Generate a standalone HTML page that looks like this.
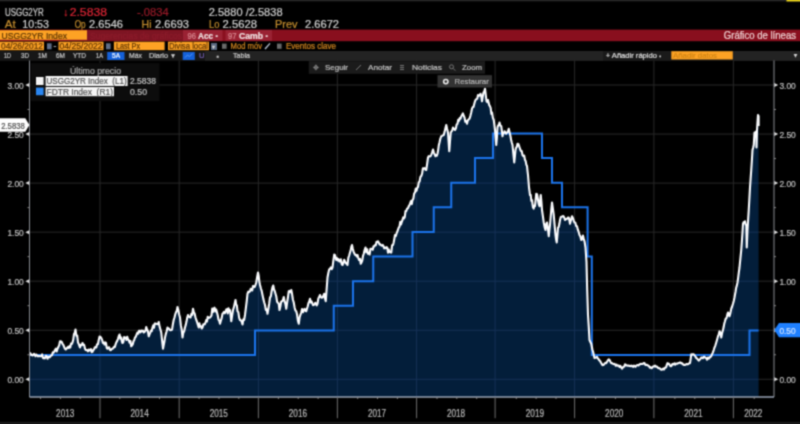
<!DOCTYPE html>
<html lang="es"><head><meta charset="utf-8"><title>USGG2YR Index - Gráfico de líneas</title>
<style>
html,body{margin:0;padding:0;background:#000;overflow:hidden}
body{width:800px;height:424px}
svg{display:block;font-family:'Liberation Sans', sans-serif;}
</style></head><body>
<svg width="800" height="424" viewBox="0 0 800 424">
<defs><filter id="soft" x="0" y="0" width="800" height="424" filterUnits="userSpaceOnUse" color-interpolation-filters="sRGB"><feConvolveMatrix order="3" kernelMatrix="0.0439 0.1217 0.0439 0.1217 0.3377 0.1217 0.0439 0.1217 0.0439" edgeMode="duplicate" preserveAlpha="true"/></filter></defs>
<rect x="0" y="0" width="800" height="424" fill="#000"/>
<g filter="url(#soft)">
<rect x="0" y="0" width="800" height="424" fill="#000"/>
<rect x="0" y="0" width="800" height="1.3" fill="#282828"/>
<rect x="786.5" y="0" width="13.5" height="1.5" fill="#e8d21c"/>
<text x="5" y="15.6" font-size="10.4" fill="#cfcfcf" stroke="#cfcfcf" stroke-width="0.2" textLength="38.8" lengthAdjust="spacingAndGlyphs" xml:space="preserve">USGG2YR</text>
<text x="63.2" y="15.6" font-size="10.4" fill="#d0202c" stroke="#d0202c" stroke-width="0.2" xml:space="preserve">↓</text>
<text x="69.7" y="15.6" font-size="10.4" fill="#e02535" stroke="#e02535" stroke-width="0.2" textLength="37.3" lengthAdjust="spacingAndGlyphs" xml:space="preserve">2.5838</text>
<text x="137" y="15.6" font-size="10.4" fill="#9a1a28" stroke="#9a1a28" stroke-width="0.2" textLength="31.7" lengthAdjust="spacingAndGlyphs" xml:space="preserve">-.0834</text>
<text x="208.7" y="15.6" font-size="10.4" fill="#cfcfcf" stroke="#cfcfcf" stroke-width="0.2" textLength="73.9" lengthAdjust="spacingAndGlyphs" xml:space="preserve">2.5880 /2.5838</text>
<text x="4.8" y="27.7" font-size="10.4" fill="#c8902f" stroke="#c8902f" stroke-width="0.2" textLength="11.0" lengthAdjust="spacingAndGlyphs" xml:space="preserve">At</text>
<text x="22.3" y="27.7" font-size="10.4" fill="#d2d2d2" stroke="#d2d2d2" stroke-width="0.2" textLength="26.7" lengthAdjust="spacingAndGlyphs" xml:space="preserve">10:53</text>
<text x="74.7" y="27.7" font-size="10.4" fill="#c8902f" stroke="#c8902f" stroke-width="0.2" textLength="11.0" lengthAdjust="spacingAndGlyphs" xml:space="preserve">Op</text>
<text x="89" y="27.7" font-size="10.4" fill="#d2d2d2" stroke="#d2d2d2" stroke-width="0.2" textLength="34" lengthAdjust="spacingAndGlyphs" xml:space="preserve">2.6546</text>
<text x="141.5" y="27.7" font-size="10.4" fill="#c8902f" stroke="#c8902f" stroke-width="0.2" textLength="10.0" lengthAdjust="spacingAndGlyphs" xml:space="preserve">Hi</text>
<text x="155" y="27.7" font-size="10.4" fill="#d2d2d2" stroke="#d2d2d2" stroke-width="0.2" textLength="34" lengthAdjust="spacingAndGlyphs" xml:space="preserve">2.6693</text>
<text x="209" y="27.7" font-size="10.4" fill="#c8902f" stroke="#c8902f" stroke-width="0.2" textLength="10.5" lengthAdjust="spacingAndGlyphs" xml:space="preserve">Lo</text>
<text x="222.5" y="27.7" font-size="10.4" fill="#d2d2d2" stroke="#d2d2d2" stroke-width="0.2" textLength="34.5" lengthAdjust="spacingAndGlyphs" xml:space="preserve">2.5628</text>
<text x="275" y="27.7" font-size="10.4" fill="#c8902f" stroke="#c8902f" stroke-width="0.2" textLength="22.5" lengthAdjust="spacingAndGlyphs" xml:space="preserve">Prev</text>
<text x="305" y="27.7" font-size="10.4" fill="#d2d2d2" stroke="#d2d2d2" stroke-width="0.2" textLength="34" lengthAdjust="spacingAndGlyphs" xml:space="preserve">2.6672</text>
<rect x="0" y="29.6" width="800" height="11.6" fill="#890f1e"/>
<rect x="0" y="30.2" width="87" height="9.6" fill="#fda224"/>
<text x="1.5" y="38.5" font-size="9.8" fill="#553003" stroke="#553003" stroke-width="0.2" textLength="65.5" lengthAdjust="spacingAndGlyphs" xml:space="preserve">USGG2YR Index</text>
<rect x="87" y="30.5" width="98" height="10" fill="#7d1523"/>
<text x="90" y="38.6" font-size="9" fill="#8e1c2b" stroke="#8e1c2b" stroke-width="0.2" textLength="92" lengthAdjust="spacingAndGlyphs" xml:space="preserve">Sugerencias de gráficos</text>
<rect x="183" y="30" width="39.5" height="10.8" fill="#9a2233"/>
<text x="187.5" y="38.6" font-size="9" fill="#d98a92" stroke="#d98a92" stroke-width="0.2" textLength="8.5" lengthAdjust="spacingAndGlyphs" xml:space="preserve">96</text>
<text x="198" y="38.6" font-size="9.6" fill="#f2e6e6" stroke="#f2e6e6" stroke-width="0.2" textLength="15" lengthAdjust="spacingAndGlyphs" font-weight="bold" xml:space="preserve">Acc</text>
<text x="215.5" y="38.2" font-size="6" fill="#f2e6e6" stroke="#f2e6e6" stroke-width="0.2" xml:space="preserve">▪</text>
<rect x="225.5" y="30" width="46.5" height="10.8" fill="#9a2233"/>
<text x="228" y="38.6" font-size="9" fill="#d98a92" stroke="#d98a92" stroke-width="0.2" textLength="8.5" lengthAdjust="spacingAndGlyphs" xml:space="preserve">97</text>
<text x="239" y="38.6" font-size="9.6" fill="#f2e6e6" stroke="#f2e6e6" stroke-width="0.2" textLength="24" lengthAdjust="spacingAndGlyphs" font-weight="bold" xml:space="preserve">Camb</text>
<text x="265.5" y="38.2" font-size="6" fill="#f2e6e6" stroke="#f2e6e6" stroke-width="0.2" xml:space="preserve">▪</text>
<text x="723.8" y="38.8" font-size="10.4" fill="#f0d6d6" stroke="#f0d6d6" stroke-width="0.2" textLength="72.2" lengthAdjust="spacingAndGlyphs" xml:space="preserve">Gráfico de líneas</text>
<rect x="0" y="41.7" width="44" height="8.5" fill="#fda224"/>
<text x="1" y="49.2" font-size="8.8" fill="#5a3203" stroke="#5a3203" stroke-width="0.2" textLength="42" lengthAdjust="spacingAndGlyphs" xml:space="preserve">04/26/2012</text>
<rect x="47" y="43.3" width="4.6" height="6" fill="#5f6d86"/>
<text x="53.5" y="49" font-size="8.8" fill="#bbbbbb" stroke="#bbbbbb" stroke-width="0.2" xml:space="preserve">-</text>
<rect x="58.5" y="41.7" width="45" height="8.5" fill="#fda224"/>
<text x="59.5" y="49.2" font-size="8.8" fill="#5a3203" stroke="#5a3203" stroke-width="0.2" textLength="43.0" lengthAdjust="spacingAndGlyphs" xml:space="preserve">04/25/2022</text>
<rect x="106" y="43.3" width="4.6" height="6" fill="#5f6d86"/>
<rect x="113.9" y="41.7" width="50.7" height="8.5" fill="#fda224"/>
<text x="116" y="49.2" font-size="8.8" fill="#5a3203" stroke="#5a3203" stroke-width="0.2" textLength="24" lengthAdjust="spacingAndGlyphs" xml:space="preserve">Last Px</text>
<rect x="168" y="41.7" width="41" height="8.5" fill="#fda224"/>
<text x="169" y="49.2" font-size="8.8" fill="#5a3203" stroke="#5a3203" stroke-width="0.2" textLength="39" lengthAdjust="spacingAndGlyphs" xml:space="preserve">Divisa local</text>
<rect x="211" y="43" width="6" height="7" fill="#5a6880"/>
<text x="212.3" y="48.6" font-size="6" fill="#d0d0d0" stroke="#d0d0d0" stroke-width="0.2" xml:space="preserve">▾</text>
<rect x="222" y="43.6" width="4.6" height="5.2" fill="#6a6a6a"/>
<text x="230.5" y="49.2" font-size="8.8" fill="#d98a20" stroke="#d98a20" stroke-width="0.2" textLength="31.5" lengthAdjust="spacingAndGlyphs" xml:space="preserve">Mod móv</text>
<path d="M265 49 L270 43.4" stroke="#c0c8d8" stroke-width="1.3" fill="none"/>
<rect x="277" y="43.6" width="4.6" height="5.2" fill="#6a6a6a"/>
<text x="286" y="49.2" font-size="8.8" fill="#d98a20" stroke="#d98a20" stroke-width="0.2" textLength="50" lengthAdjust="spacingAndGlyphs" xml:space="preserve">Eventos clave</text>
<rect x="0" y="51" width="800" height="9.8" fill="#171717"/>
<rect x="205" y="51" width="398" height="9.8" fill="#232323"/>
<rect x="733" y="51" width="67" height="9.8" fill="#232323"/>
<rect x="603" y="51" width="68" height="9.8" fill="#1a1a1a"/>
<text x="4" y="58.1" font-size="7.6" fill="#cfcfcf" stroke="#cfcfcf" stroke-width="0.2" textLength="7" lengthAdjust="spacingAndGlyphs" xml:space="preserve">1D</text>
<text x="21" y="58.1" font-size="7.6" fill="#cfcfcf" stroke="#cfcfcf" stroke-width="0.2" textLength="8" lengthAdjust="spacingAndGlyphs" xml:space="preserve">3D</text>
<text x="38" y="58.1" font-size="7.6" fill="#cfcfcf" stroke="#cfcfcf" stroke-width="0.2" textLength="9" lengthAdjust="spacingAndGlyphs" xml:space="preserve">1M</text>
<text x="56" y="58.1" font-size="7.6" fill="#cfcfcf" stroke="#cfcfcf" stroke-width="0.2" textLength="9" lengthAdjust="spacingAndGlyphs" xml:space="preserve">6M</text>
<text x="73" y="58.1" font-size="7.6" fill="#cfcfcf" stroke="#cfcfcf" stroke-width="0.2" textLength="13" lengthAdjust="spacingAndGlyphs" xml:space="preserve">YTD</text>
<text x="96" y="58.1" font-size="7.6" fill="#cfcfcf" stroke="#cfcfcf" stroke-width="0.2" textLength="7" lengthAdjust="spacingAndGlyphs" xml:space="preserve">1A</text>
<rect x="107.2" y="52" width="17.3" height="8" fill="#1560d8"/>
<text x="112" y="58.1" font-size="7.6" fill="#ffffff" stroke="#ffffff" stroke-width="0.2" textLength="8" lengthAdjust="spacingAndGlyphs" xml:space="preserve">5A</text>
<text x="129" y="58.1" font-size="7.6" fill="#cfcfcf" stroke="#cfcfcf" stroke-width="0.2" textLength="13" lengthAdjust="spacingAndGlyphs" xml:space="preserve">Máx</text>
<text x="149" y="58.1" font-size="7.6" fill="#cfcfcf" stroke="#cfcfcf" stroke-width="0.2" textLength="19" lengthAdjust="spacingAndGlyphs" xml:space="preserve">Diario</text>
<text x="170" y="58.4" font-size="6.4" fill="#cfcfcf" stroke="#cfcfcf" stroke-width="0.2" textLength="6" lengthAdjust="spacingAndGlyphs" xml:space="preserve">▼</text>
<rect x="182.7" y="52" width="12.1" height="8" fill="#1560d8"/>
<path d="M185 57.6 L187.5 55 L189.5 56.6 L192.5 53.6" stroke="#4f95f5" stroke-width="1" fill="none"/>
<text x="199" y="58.1" font-size="7.6" fill="#7a62b8" stroke="#7a62b8" stroke-width="0.2" textLength="5.5" lengthAdjust="spacingAndGlyphs" xml:space="preserve">U</text>
<text x="216.6" y="58.6" font-size="7" fill="#c8c8c8" stroke="#c8c8c8" stroke-width="0.2" xml:space="preserve">▪</text>
<text x="233" y="58.1" font-size="7.6" fill="#cfcfcf" stroke="#cfcfcf" stroke-width="0.2" textLength="17" lengthAdjust="spacingAndGlyphs" xml:space="preserve">Tabla</text>
<text x="605.7" y="58.2" font-size="8" fill="#e0e0e0" stroke="#e0e0e0" stroke-width="0.2" textLength="51.3" lengthAdjust="spacingAndGlyphs" xml:space="preserve">+ Añadir rápido</text>
<text x="659.5" y="57.8" font-size="5" fill="#e0e0e0" stroke="#e0e0e0" stroke-width="0.2" xml:space="preserve">▪</text>
<rect x="671.3" y="51.2" width="61.5" height="8.3" fill="#fda224"/>
<text x="673" y="58.1" font-size="8" fill="#cf8414" stroke="#cf8414" stroke-width="0.2" textLength="44" lengthAdjust="spacingAndGlyphs" xml:space="preserve">Añadir datos</text>
<path d="M793.6 54 L797.4 54 L795.5 57.8 Z" fill="#d8d8d8"/>
<line x1="29.5" y1="85.0" x2="774.0" y2="85.0" stroke="#282828" stroke-width="1"/>
<line x1="29.5" y1="134.05" x2="774.0" y2="134.05" stroke="#282828" stroke-width="1"/>
<line x1="29.5" y1="183.1" x2="774.0" y2="183.1" stroke="#282828" stroke-width="1"/>
<line x1="29.5" y1="232.15" x2="774.0" y2="232.15" stroke="#282828" stroke-width="1"/>
<line x1="29.5" y1="281.2" x2="774.0" y2="281.2" stroke="#282828" stroke-width="1"/>
<line x1="29.5" y1="330.25" x2="774.0" y2="330.25" stroke="#282828" stroke-width="1"/>
<line x1="29.5" y1="379.3" x2="774.0" y2="379.3" stroke="#282828" stroke-width="1"/>
<line x1="100" y1="60.5" x2="100" y2="397.0" stroke="#282828" stroke-width="1"/>
<line x1="179.2" y1="60.5" x2="179.2" y2="397.0" stroke="#282828" stroke-width="1"/>
<line x1="258.4" y1="60.5" x2="258.4" y2="397.0" stroke="#282828" stroke-width="1"/>
<line x1="337.4" y1="60.5" x2="337.4" y2="397.0" stroke="#282828" stroke-width="1"/>
<line x1="416.6" y1="60.5" x2="416.6" y2="397.0" stroke="#282828" stroke-width="1"/>
<line x1="495.1" y1="60.5" x2="495.1" y2="397.0" stroke="#282828" stroke-width="1"/>
<line x1="574.6" y1="60.5" x2="574.6" y2="397.0" stroke="#282828" stroke-width="1"/>
<line x1="653.9" y1="60.5" x2="653.9" y2="397.0" stroke="#282828" stroke-width="1"/>
<line x1="733.4" y1="60.5" x2="733.4" y2="397.0" stroke="#282828" stroke-width="1"/>
<polygon points="29.5,397.0 29.5,353 30.25,353.28 31.0,354.94 31.75,354.57 32.5,355.5 33.25,354.87 34.0,353.84 34.75,354.61 35.5,356.2 36.25,354.5 37.08,355.36 37.92,356.48 38.75,355.71 39.58,356.2 40.42,356.21 41.25,356.25 42.14,354.36 43.04,358.12 43.93,358.01 44.82,358.35 45.71,355.75 46.61,356.04 47.5,358.75 48.25,356.9 49.0,356.82 49.75,357.21 50.5,356.09 51.25,355.5 52.0,355.1 52.75,352.43 53.5,352.62 54.25,351.63 55,350 55.83,348.69 56.67,351.49 57.5,348.75 58.33,347.0 59.17,345.37 60,341.25 60.83,341.25 61.67,341.92 62.5,343.75 63.33,344.95 64.17,346.94 65,348.75 65.75,349.45 66.5,348.79 67.25,347.7 68.0,346.86 68.75,348 69.5,346.2 70.25,347.45 71.0,343.61 71.75,343.93 72.5,342.5 73.25,339.83 74.0,333.99 74.75,332.82 75.5,329.5 76.33,335.6 77.17,335.45 78,342.5 78.67,343.73 79.33,345.69 80,347.5 80.83,344.9 81.67,345.17 82.5,343 83.33,344.83 84.17,344.86 85,348.75 85.75,350.02 86.5,349.95 87.25,350.48 88.0,351.29 88.75,349.5 89.5,350.44 90.25,350.56 91.0,349.1 91.75,352.13 92.5,351.75 93.25,350.07 94.0,349.44 94.75,347.49 95.5,347.04 96.25,347.5 97.08,344.28 97.92,344.24 98.75,340 99.58,336.59 100.42,336.7 101.25,338 102.08,339.82 102.92,342.95 103.75,342.5 104.5,344.53 105.25,342.44 106.0,342.85 106.75,347.98 107.5,348.75 108.33,347.76 109.17,347.24 110.0,350.07 110.83,350.24 111.67,348.96 112.5,348.75 113.25,347.83 114.0,346.84 114.75,347.15 115.5,344.59 116.25,342.5 117.08,341.12 117.92,339.07 118.75,336.25 119.58,334.55 120.42,338.81 121.25,337.5 121.88,341.54 122.5,343 123.33,342.05 124.17,337.0 125,338 125.75,337.54 126.5,339.94 127.25,336.75 128.0,339.35 128.75,340 129.56,342.75 130.38,340.98 131.19,346.3 132,345.5 132.75,344.25 133.5,341.3 134.25,339.94 135,337.5 135.83,336.71 136.67,334.33 137.5,332.5 138.25,333.65 139.0,330.81 139.75,330.74 140.5,332.31 141.25,330.5 142.08,331.2 142.92,330.64 143.75,332.5 144.58,331.94 145.42,330.81 146.25,327 147.08,329.48 147.92,331.3 148.75,336.25 149.5,334.32 150.25,332.55 151.0,330.6 151.75,331.15 152.5,327.5 153.25,325.36 154.0,327.7 154.75,323.54 155.5,323.44 156.25,323.75 157.08,324.02 157.92,324.11 158.75,322 159.58,326.66 160.42,329.47 161.25,332.5 162.12,340.7 163,348.75 163.67,345.21 164.33,342.03 165,337.5 165.83,333.93 166.67,331.21 167.5,327.5 168.25,328.77 169.0,328.5 169.75,330.03 170.5,330.26 171.25,330 172.06,329.59 172.88,324.19 173.69,320.05 174.5,317.5 175.25,314.37 176.0,312.23 176.75,310.87 177.5,307 178.33,310.05 179.17,314.52 180,317.5 180.83,325.16 181.67,329.45 182.5,337.5 183.33,332.65 184.17,331.16 185,327.5 185.75,324.91 186.5,321.57 187.25,317.54 188,315 188.83,316.72 189.67,317.05 190.5,317.5 191.33,313.88 192.17,314.95 193,308.75 193.83,312.15 194.67,313.84 195.5,317.5 196.31,319.87 197.12,322.2 197.94,324.92 198.75,327.5 199.38,323.19 200,326.25 200.83,326.01 201.67,328.44 202.5,327.5 203.25,324.42 204.0,324.41 204.75,324.29 205.5,322.66 206.25,320 207.0,321.51 207.75,316.7 208.5,318.02 209.25,317.54 210,317.5 210.75,316.59 211.5,315.47 212.25,308.63 213.0,311.97 213.75,308.75 214.56,307.73 215.38,311.55 216.19,309.55 217,312.5 217.75,315.55 218.5,319.74 219.25,320.74 220,323.75 220.83,320.67 221.67,318.16 222.5,313.75 223.25,313.09 224.0,311.93 224.75,313.27 225.5,311.77 226.25,309.5 227.0,309.2 227.75,313.41 228.5,308.25 229.25,311.13 230,310 230.62,315.48 231.25,321.25 232.12,315.7 233,310 233.83,307.62 234.67,303.63 235.5,300 236.17,304.61 236.83,305.44 237.5,311.25 238.33,312.13 239.17,317.91 240,320 240.83,320.2 241.67,321.61 242.5,324.5 243.33,319.35 244.17,319.88 245,315 245.83,308.32 246.67,301.63 247.5,293.75 248.33,291.65 249.17,292.08 250,291.25 250.75,288.71 251.5,290.28 252.25,290.4 253.0,286.05 253.75,286.25 254.58,287.11 255.42,285.08 256.25,282.5 257.12,277.26 258,272.5 258.67,275.6 259.33,281.59 260,285 260.83,288.2 261.67,290.85 262.5,295 263.33,298.87 264.17,302.22 265,305 265.83,309.94 266.67,309.46 267.5,313.75 268.33,308.95 269.17,303.72 270,297.5 270.81,296.46 271.62,291.26 272.44,287.5 273.25,285.5 274.0,289.56 274.75,291.03 275.5,293.73 276.25,296.25 277.06,301.61 277.88,302.77 278.69,303.46 279.5,310 280.33,306.56 281.17,301.66 282,301.25 282.88,300.23 283.75,297 284.58,301.34 285.42,304.01 286.25,308.75 287.08,302.91 287.92,297.53 288.75,291.25 289.58,290.94 290.42,292.21 291.25,290 292.08,294.08 292.92,299.74 293.75,302.5 294.58,307.43 295.42,310.51 296.25,311.25 297.08,314.51 297.92,320.77 298.75,323.75 299.58,317.47 300.42,314.79 301.25,312.5 302.08,309.02 302.92,312.28 303.75,310 304.58,308.75 305.42,310.82 306.25,311.25 307.0,308.49 307.75,306.21 308.5,302.95 309.25,301.57 310,298.75 310.75,302.42 311.5,301.31 312.25,303.22 313.0,305.1 313.75,305 314.5,304.48 315.25,302.8 316.0,303.5 316.75,305.45 317.5,303.75 318.33,298.61 319.17,297.11 320,295 320.83,297.19 321.67,297.74 322.5,297.5 323.38,295.64 324.25,293.75 325.0,298.59 325.75,301.25 326.62,289.46 327.5,277.5 328.33,272.99 329.17,269.56 330,268.75 330.83,267.47 331.67,269.16 332.5,267.5 333.38,260.69 334.25,254.5 334.92,255.12 335.58,257.13 336.25,260 337.0,258.18 337.75,260.34 338.5,259.16 339.25,261.49 340,261.25 340.83,259.31 341.67,264.19 342.5,265 343.33,262.88 344.17,259.88 345,261.25 345.83,263.48 346.67,263.38 347.5,265 348.33,257.82 349.17,255.49 350,252.5 350.67,250.39 351.33,246.88 352,245 352.83,248.97 353.67,251.84 354.5,253.75 355.25,254.96 356.0,254.82 356.75,256.49 357.5,255 358.31,258.08 359.12,259.98 359.94,258.75 360.75,263.75 361.5,262.46 362.25,260.52 363.0,255.85 363.75,253.75 364.62,249.99 365.5,247.5 366.33,252.2 367.17,249.29 368,253.75 368.81,253.13 369.62,254.52 370.44,248.75 371.25,248.75 372.0,248.93 372.75,249.8 373.5,246.34 374.25,246.51 375,245 375.75,245.28 376.5,241.9 377.25,242.07 378,241.25 378.81,242.71 379.62,244.49 380.44,244.39 381.25,245.5 382.0,245.64 382.75,244.93 383.5,246.22 384.25,248.3 385,247.5 385.75,248.04 386.5,247.15 387.25,247.56 388.0,252.7 388.75,249.5 389.58,252.04 390.42,252.36 391.25,252.5 392.12,245.25 393,245 393.67,242.51 394.33,238.98 395,235 395.83,236.02 396.67,233.08 397.5,231.25 398.12,229.28 398.75,227.5 399.5,226.71 400.25,221.88 401.0,224.39 401.75,221.94 402.5,220 403.25,217.3 404.0,218.29 404.75,217.19 405.5,211.11 406.25,211.25 407.08,208.68 407.92,208.31 408.75,206.25 409.5,205.25 410.25,203.21 411.0,201.18 411.75,204.11 412.5,200 413.33,198.9 414.17,193.39 415,192.5 415.75,188.68 416.5,190.8 417.25,187.84 418.0,186.96 418.75,182.5 419.58,181.43 420.42,176.99 421.25,176 422.08,173.94 422.92,168.25 423.75,168.75 424.58,168.16 425.42,169.5 426.25,170 427.12,164.03 428,157.5 428.83,156.1 429.67,156.5 430.5,156.25 431.33,154.62 432.17,152.26 433,149.5 433.83,152.61 434.67,154.28 435.5,156.25 436.17,154.98 436.83,155.65 437.5,153.75 438.17,150.07 438.83,145.13 439.5,142.5 440.38,138.53 441.25,136.25 442.08,135.83 442.92,135.27 443.75,135 444.58,131.88 445.42,128.33 446.25,125 447.12,128.99 448,132.5 448.62,141.8 449.25,151.25 450.0,141.2 450.75,132.5 451.5,131.4 452.25,130.59 453,127.5 453.67,128.92 454.33,128.91 455,130 455.83,128.52 456.67,124.53 457.5,123.75 458.25,119.69 459.0,120.83 459.75,117.99 460.5,118.75 461.25,116.25 462.06,115.1 462.88,113.33 463.69,115.78 464.5,117.5 465.33,121.71 466.17,121.15 467,123.75 467.83,120.23 468.67,119.39 469.5,118.75 470.33,116.12 471.17,112.75 472,108.75 472.75,107.11 473.5,107.0 474.25,104.08 475,101.25 475.75,99.66 476.5,98.93 477.25,98.8 478,95 478.83,95.89 479.67,95.55 480.5,93.75 481.25,96.04 482,101.25 482.75,96.67 483.5,92.5 484.25,91.61 485,88.75 485.75,94.84 486.5,101.25 487.25,102.07 488,100 488.67,102.89 489.33,105.39 490,106.25 490.67,108.05 491.33,113.85 492,112.5 492.88,117.92 493.75,120 494.38,124.88 495,130 495.62,137.55 496.25,145 496.88,137.65 497.5,127.5 498.17,125.37 498.83,125.35 499.5,122.5 500.38,125.7 501.25,126.25 501.88,131.25 502.5,136.25 503.17,133.01 503.83,133.17 504.5,131.25 505.33,132.15 506.17,133.61 507,132.5 507.88,131.68 508.75,128.75 509.62,132.53 510.5,136.25 511.17,140.32 511.83,142.81 512.5,145 513.38,153.86 514.25,162.5 514.88,156.28 515.5,150 516.17,147.59 516.83,146.76 517.5,143.75 518.33,143.99 519.17,146.23 520,148.75 520.83,150.84 521.67,150.94 522.5,155 523.33,156.08 524.17,155.62 525,160 525.67,161.08 526.33,164.77 527,166 527.5,170.81 528,175 528.5,181.22 529,187.5 529.5,191.12 530,195 530.67,194.75 531.33,200.8 532,200 532.5,204.03 533,207.5 533.67,208.56 534.33,205.48 535,206.25 535.62,199.9 536.25,193.75 537.12,194.42 538,200 538.75,204.18 539.5,206.25 540.12,201.13 540.75,195 541.38,201.48 542,210 542.88,216.22 543.75,222.5 544.62,227.1 545.5,230 546.25,223.87 547,222.5 547.88,228.39 548.75,236.25 549.38,230.05 550,225 550.67,217.16 551.33,209.24 552,202.5 552.88,208.77 553.75,215 554.62,225.13 555.5,235 556.12,239.61 556.75,242.5 557.38,235.38 558,227.5 558.67,227.03 559.33,224.07 560,220 560.83,216.98 561.67,216.82 562.5,216.25 563.33,216.07 564.17,217.3 565,220 565.75,219.27 566.5,218.76 567.25,218.79 568,217.5 568.67,217.44 569.33,220.0 570,223.75 570.67,221.22 571.33,218.48 572,216.25 572.83,217.91 573.67,220.33 574.5,222.5 575.33,222.72 576.17,225.95 577,226.25 577.83,229.64 578.67,231.96 579.5,235 580.38,236.59 581.25,240 582.08,239.35 582.92,235.49 583.75,238.75 584.62,241.8 585.5,247.5 586.0,254.77 586.5,262 587.2,290 588,315 588.75,326.69 589.5,340 590.38,341.97 591.25,343.75 591.88,346.95 592.5,350 593.17,352.01 593.83,355.27 594.5,358.1 595.33,357.53 596.17,357.5 597,356.85 597.83,358.41 598.67,359.33 599.5,360.6 600.25,361.3 601.0,362.78 601.75,363.94 602.5,365.1 603.25,365.07 604.0,364.45 604.75,363.54 605.5,362.82 606.25,363.1 607.08,361.66 607.92,360.23 608.75,359.35 609.58,360.04 610.42,361.79 611.25,363.1 612.0,363.1 612.75,363.65 613.5,364.11 614.25,363.89 615,364.35 615.75,365.76 616.5,364.69 617.25,365.65 618.0,365.41 618.75,365.6 619.56,366.91 620.38,365.91 621.19,367.47 622,368.6 622.75,367.66 623.5,366.78 624.25,366.58 625,364.35 625.75,364.76 626.5,365.49 627.25,365.48 628.0,365.82 628.75,365.6 629.5,366.01 630.25,365.82 631.0,366.3 631.75,365.66 632.5,366.35 633.25,366.79 634.0,365.54 634.75,366.02 635.5,366.81 636.25,365.6 637.0,365.24 637.75,365.11 638.5,365.43 639.25,364.61 640,364.35 640.75,363.7 641.5,363.98 642.25,363.89 643.0,363.71 643.75,363.1 644.5,363.11 645.25,364.78 646.0,365.13 646.75,364.71 647.5,365.1 648.25,365.83 649.0,366.09 649.75,367.61 650.5,367.15 651.25,368.1 652.0,367.94 652.75,366.86 653.5,366.25 654.25,366.46 655,365.6 655.75,366.77 656.5,366.59 657.25,366.76 658.0,368.01 658.75,368.1 659.5,368.33 660.25,368.76 661.0,369.61 661.75,369.67 662.5,369.35 663.25,368.59 664.0,369.49 664.75,367.85 665.5,367.74 666.25,366.85 666.88,364.65 667.5,363.1 668.33,363.91 669.17,363.89 670,365.6 670.75,366.24 671.5,365.78 672.25,364.24 673.0,363.85 673.75,364.35 674.5,363.39 675.25,364.64 676.0,363.67 676.75,363.72 677.5,363.6 678.33,363.11 679.17,362.87 680,362.6 680.75,362.51 681.5,363.51 682.25,363.23 683.0,364.36 683.75,364.85 684.5,364.9 685.25,364.88 686.0,364.43 686.75,364.0 687.5,364.35 688.33,364.01 689.17,363.27 690,363.1 690.62,359.04 691.25,354.35 692.08,354.73 692.92,354.29 693.75,354.35 694.58,355.36 695.42,356.5 696.25,358.1 697.08,358.46 697.92,359.59 698.75,360.6 699.58,359.75 700.42,358.86 701.25,357.6 702.08,357.63 702.92,358.15 703.75,356.85 704.58,356.91 705.42,357.69 706.25,358.1 707.08,359.66 707.92,357.5 708.75,358.6 709.58,357.51 710.42,357.02 711.25,356.1 712.08,354.19 712.92,352.36 713.75,350 714.58,347.31 715.42,345.29 716.25,342.5 717.12,339.42 718,336.25 718.75,334.37 719.5,331.25 720.38,332.86 721.25,337.5 722.12,333.04 723,330 723.67,327.08 724.33,323.34 725,321.25 725.67,318.75 726.33,318.42 727,316.25 727.5,313.86 728,312.5 728.75,314.88 729.5,316.25 730.38,313.1 731.25,308.75 732.12,306.5 733,303.75 733.75,301.03 734.5,297.5 735.0,294.67 735.5,292 736.17,287.71 736.83,285.64 737.5,282.5 738.17,277.65 738.83,272.33 739.5,267.5 740.38,258.72 741.25,250 741.88,241.49 742.5,232.5 743,223.75 743.67,222.21 744.33,222.6 745,221.25 745.62,224.62 746.25,225 746.75,247.5 747.5,230 748.12,219.82 748.75,210 749.38,198.8 750,187.5 750.62,178.7 751.25,170 751.88,160.49 752.5,150 753.12,147.75 753.75,145 754.5,132.5 755.38,132.59 756.25,131.25 756.5,147.5 757,130 757.5,122.28 758,115 758.6,116.25 758.6,126 758.6,397.0" fill="#031e3a"/>
<clipPath id="fc"><polygon points="29.5,397.0 29.5,353 30.25,353.28 31.0,354.94 31.75,354.57 32.5,355.5 33.25,354.87 34.0,353.84 34.75,354.61 35.5,356.2 36.25,354.5 37.08,355.36 37.92,356.48 38.75,355.71 39.58,356.2 40.42,356.21 41.25,356.25 42.14,354.36 43.04,358.12 43.93,358.01 44.82,358.35 45.71,355.75 46.61,356.04 47.5,358.75 48.25,356.9 49.0,356.82 49.75,357.21 50.5,356.09 51.25,355.5 52.0,355.1 52.75,352.43 53.5,352.62 54.25,351.63 55,350 55.83,348.69 56.67,351.49 57.5,348.75 58.33,347.0 59.17,345.37 60,341.25 60.83,341.25 61.67,341.92 62.5,343.75 63.33,344.95 64.17,346.94 65,348.75 65.75,349.45 66.5,348.79 67.25,347.7 68.0,346.86 68.75,348 69.5,346.2 70.25,347.45 71.0,343.61 71.75,343.93 72.5,342.5 73.25,339.83 74.0,333.99 74.75,332.82 75.5,329.5 76.33,335.6 77.17,335.45 78,342.5 78.67,343.73 79.33,345.69 80,347.5 80.83,344.9 81.67,345.17 82.5,343 83.33,344.83 84.17,344.86 85,348.75 85.75,350.02 86.5,349.95 87.25,350.48 88.0,351.29 88.75,349.5 89.5,350.44 90.25,350.56 91.0,349.1 91.75,352.13 92.5,351.75 93.25,350.07 94.0,349.44 94.75,347.49 95.5,347.04 96.25,347.5 97.08,344.28 97.92,344.24 98.75,340 99.58,336.59 100.42,336.7 101.25,338 102.08,339.82 102.92,342.95 103.75,342.5 104.5,344.53 105.25,342.44 106.0,342.85 106.75,347.98 107.5,348.75 108.33,347.76 109.17,347.24 110.0,350.07 110.83,350.24 111.67,348.96 112.5,348.75 113.25,347.83 114.0,346.84 114.75,347.15 115.5,344.59 116.25,342.5 117.08,341.12 117.92,339.07 118.75,336.25 119.58,334.55 120.42,338.81 121.25,337.5 121.88,341.54 122.5,343 123.33,342.05 124.17,337.0 125,338 125.75,337.54 126.5,339.94 127.25,336.75 128.0,339.35 128.75,340 129.56,342.75 130.38,340.98 131.19,346.3 132,345.5 132.75,344.25 133.5,341.3 134.25,339.94 135,337.5 135.83,336.71 136.67,334.33 137.5,332.5 138.25,333.65 139.0,330.81 139.75,330.74 140.5,332.31 141.25,330.5 142.08,331.2 142.92,330.64 143.75,332.5 144.58,331.94 145.42,330.81 146.25,327 147.08,329.48 147.92,331.3 148.75,336.25 149.5,334.32 150.25,332.55 151.0,330.6 151.75,331.15 152.5,327.5 153.25,325.36 154.0,327.7 154.75,323.54 155.5,323.44 156.25,323.75 157.08,324.02 157.92,324.11 158.75,322 159.58,326.66 160.42,329.47 161.25,332.5 162.12,340.7 163,348.75 163.67,345.21 164.33,342.03 165,337.5 165.83,333.93 166.67,331.21 167.5,327.5 168.25,328.77 169.0,328.5 169.75,330.03 170.5,330.26 171.25,330 172.06,329.59 172.88,324.19 173.69,320.05 174.5,317.5 175.25,314.37 176.0,312.23 176.75,310.87 177.5,307 178.33,310.05 179.17,314.52 180,317.5 180.83,325.16 181.67,329.45 182.5,337.5 183.33,332.65 184.17,331.16 185,327.5 185.75,324.91 186.5,321.57 187.25,317.54 188,315 188.83,316.72 189.67,317.05 190.5,317.5 191.33,313.88 192.17,314.95 193,308.75 193.83,312.15 194.67,313.84 195.5,317.5 196.31,319.87 197.12,322.2 197.94,324.92 198.75,327.5 199.38,323.19 200,326.25 200.83,326.01 201.67,328.44 202.5,327.5 203.25,324.42 204.0,324.41 204.75,324.29 205.5,322.66 206.25,320 207.0,321.51 207.75,316.7 208.5,318.02 209.25,317.54 210,317.5 210.75,316.59 211.5,315.47 212.25,308.63 213.0,311.97 213.75,308.75 214.56,307.73 215.38,311.55 216.19,309.55 217,312.5 217.75,315.55 218.5,319.74 219.25,320.74 220,323.75 220.83,320.67 221.67,318.16 222.5,313.75 223.25,313.09 224.0,311.93 224.75,313.27 225.5,311.77 226.25,309.5 227.0,309.2 227.75,313.41 228.5,308.25 229.25,311.13 230,310 230.62,315.48 231.25,321.25 232.12,315.7 233,310 233.83,307.62 234.67,303.63 235.5,300 236.17,304.61 236.83,305.44 237.5,311.25 238.33,312.13 239.17,317.91 240,320 240.83,320.2 241.67,321.61 242.5,324.5 243.33,319.35 244.17,319.88 245,315 245.83,308.32 246.67,301.63 247.5,293.75 248.33,291.65 249.17,292.08 250,291.25 250.75,288.71 251.5,290.28 252.25,290.4 253.0,286.05 253.75,286.25 254.58,287.11 255.42,285.08 256.25,282.5 257.12,277.26 258,272.5 258.67,275.6 259.33,281.59 260,285 260.83,288.2 261.67,290.85 262.5,295 263.33,298.87 264.17,302.22 265,305 265.83,309.94 266.67,309.46 267.5,313.75 268.33,308.95 269.17,303.72 270,297.5 270.81,296.46 271.62,291.26 272.44,287.5 273.25,285.5 274.0,289.56 274.75,291.03 275.5,293.73 276.25,296.25 277.06,301.61 277.88,302.77 278.69,303.46 279.5,310 280.33,306.56 281.17,301.66 282,301.25 282.88,300.23 283.75,297 284.58,301.34 285.42,304.01 286.25,308.75 287.08,302.91 287.92,297.53 288.75,291.25 289.58,290.94 290.42,292.21 291.25,290 292.08,294.08 292.92,299.74 293.75,302.5 294.58,307.43 295.42,310.51 296.25,311.25 297.08,314.51 297.92,320.77 298.75,323.75 299.58,317.47 300.42,314.79 301.25,312.5 302.08,309.02 302.92,312.28 303.75,310 304.58,308.75 305.42,310.82 306.25,311.25 307.0,308.49 307.75,306.21 308.5,302.95 309.25,301.57 310,298.75 310.75,302.42 311.5,301.31 312.25,303.22 313.0,305.1 313.75,305 314.5,304.48 315.25,302.8 316.0,303.5 316.75,305.45 317.5,303.75 318.33,298.61 319.17,297.11 320,295 320.83,297.19 321.67,297.74 322.5,297.5 323.38,295.64 324.25,293.75 325.0,298.59 325.75,301.25 326.62,289.46 327.5,277.5 328.33,272.99 329.17,269.56 330,268.75 330.83,267.47 331.67,269.16 332.5,267.5 333.38,260.69 334.25,254.5 334.92,255.12 335.58,257.13 336.25,260 337.0,258.18 337.75,260.34 338.5,259.16 339.25,261.49 340,261.25 340.83,259.31 341.67,264.19 342.5,265 343.33,262.88 344.17,259.88 345,261.25 345.83,263.48 346.67,263.38 347.5,265 348.33,257.82 349.17,255.49 350,252.5 350.67,250.39 351.33,246.88 352,245 352.83,248.97 353.67,251.84 354.5,253.75 355.25,254.96 356.0,254.82 356.75,256.49 357.5,255 358.31,258.08 359.12,259.98 359.94,258.75 360.75,263.75 361.5,262.46 362.25,260.52 363.0,255.85 363.75,253.75 364.62,249.99 365.5,247.5 366.33,252.2 367.17,249.29 368,253.75 368.81,253.13 369.62,254.52 370.44,248.75 371.25,248.75 372.0,248.93 372.75,249.8 373.5,246.34 374.25,246.51 375,245 375.75,245.28 376.5,241.9 377.25,242.07 378,241.25 378.81,242.71 379.62,244.49 380.44,244.39 381.25,245.5 382.0,245.64 382.75,244.93 383.5,246.22 384.25,248.3 385,247.5 385.75,248.04 386.5,247.15 387.25,247.56 388.0,252.7 388.75,249.5 389.58,252.04 390.42,252.36 391.25,252.5 392.12,245.25 393,245 393.67,242.51 394.33,238.98 395,235 395.83,236.02 396.67,233.08 397.5,231.25 398.12,229.28 398.75,227.5 399.5,226.71 400.25,221.88 401.0,224.39 401.75,221.94 402.5,220 403.25,217.3 404.0,218.29 404.75,217.19 405.5,211.11 406.25,211.25 407.08,208.68 407.92,208.31 408.75,206.25 409.5,205.25 410.25,203.21 411.0,201.18 411.75,204.11 412.5,200 413.33,198.9 414.17,193.39 415,192.5 415.75,188.68 416.5,190.8 417.25,187.84 418.0,186.96 418.75,182.5 419.58,181.43 420.42,176.99 421.25,176 422.08,173.94 422.92,168.25 423.75,168.75 424.58,168.16 425.42,169.5 426.25,170 427.12,164.03 428,157.5 428.83,156.1 429.67,156.5 430.5,156.25 431.33,154.62 432.17,152.26 433,149.5 433.83,152.61 434.67,154.28 435.5,156.25 436.17,154.98 436.83,155.65 437.5,153.75 438.17,150.07 438.83,145.13 439.5,142.5 440.38,138.53 441.25,136.25 442.08,135.83 442.92,135.27 443.75,135 444.58,131.88 445.42,128.33 446.25,125 447.12,128.99 448,132.5 448.62,141.8 449.25,151.25 450.0,141.2 450.75,132.5 451.5,131.4 452.25,130.59 453,127.5 453.67,128.92 454.33,128.91 455,130 455.83,128.52 456.67,124.53 457.5,123.75 458.25,119.69 459.0,120.83 459.75,117.99 460.5,118.75 461.25,116.25 462.06,115.1 462.88,113.33 463.69,115.78 464.5,117.5 465.33,121.71 466.17,121.15 467,123.75 467.83,120.23 468.67,119.39 469.5,118.75 470.33,116.12 471.17,112.75 472,108.75 472.75,107.11 473.5,107.0 474.25,104.08 475,101.25 475.75,99.66 476.5,98.93 477.25,98.8 478,95 478.83,95.89 479.67,95.55 480.5,93.75 481.25,96.04 482,101.25 482.75,96.67 483.5,92.5 484.25,91.61 485,88.75 485.75,94.84 486.5,101.25 487.25,102.07 488,100 488.67,102.89 489.33,105.39 490,106.25 490.67,108.05 491.33,113.85 492,112.5 492.88,117.92 493.75,120 494.38,124.88 495,130 495.62,137.55 496.25,145 496.88,137.65 497.5,127.5 498.17,125.37 498.83,125.35 499.5,122.5 500.38,125.7 501.25,126.25 501.88,131.25 502.5,136.25 503.17,133.01 503.83,133.17 504.5,131.25 505.33,132.15 506.17,133.61 507,132.5 507.88,131.68 508.75,128.75 509.62,132.53 510.5,136.25 511.17,140.32 511.83,142.81 512.5,145 513.38,153.86 514.25,162.5 514.88,156.28 515.5,150 516.17,147.59 516.83,146.76 517.5,143.75 518.33,143.99 519.17,146.23 520,148.75 520.83,150.84 521.67,150.94 522.5,155 523.33,156.08 524.17,155.62 525,160 525.67,161.08 526.33,164.77 527,166 527.5,170.81 528,175 528.5,181.22 529,187.5 529.5,191.12 530,195 530.67,194.75 531.33,200.8 532,200 532.5,204.03 533,207.5 533.67,208.56 534.33,205.48 535,206.25 535.62,199.9 536.25,193.75 537.12,194.42 538,200 538.75,204.18 539.5,206.25 540.12,201.13 540.75,195 541.38,201.48 542,210 542.88,216.22 543.75,222.5 544.62,227.1 545.5,230 546.25,223.87 547,222.5 547.88,228.39 548.75,236.25 549.38,230.05 550,225 550.67,217.16 551.33,209.24 552,202.5 552.88,208.77 553.75,215 554.62,225.13 555.5,235 556.12,239.61 556.75,242.5 557.38,235.38 558,227.5 558.67,227.03 559.33,224.07 560,220 560.83,216.98 561.67,216.82 562.5,216.25 563.33,216.07 564.17,217.3 565,220 565.75,219.27 566.5,218.76 567.25,218.79 568,217.5 568.67,217.44 569.33,220.0 570,223.75 570.67,221.22 571.33,218.48 572,216.25 572.83,217.91 573.67,220.33 574.5,222.5 575.33,222.72 576.17,225.95 577,226.25 577.83,229.64 578.67,231.96 579.5,235 580.38,236.59 581.25,240 582.08,239.35 582.92,235.49 583.75,238.75 584.62,241.8 585.5,247.5 586.0,254.77 586.5,262 587.2,290 588,315 588.75,326.69 589.5,340 590.38,341.97 591.25,343.75 591.88,346.95 592.5,350 593.17,352.01 593.83,355.27 594.5,358.1 595.33,357.53 596.17,357.5 597,356.85 597.83,358.41 598.67,359.33 599.5,360.6 600.25,361.3 601.0,362.78 601.75,363.94 602.5,365.1 603.25,365.07 604.0,364.45 604.75,363.54 605.5,362.82 606.25,363.1 607.08,361.66 607.92,360.23 608.75,359.35 609.58,360.04 610.42,361.79 611.25,363.1 612.0,363.1 612.75,363.65 613.5,364.11 614.25,363.89 615,364.35 615.75,365.76 616.5,364.69 617.25,365.65 618.0,365.41 618.75,365.6 619.56,366.91 620.38,365.91 621.19,367.47 622,368.6 622.75,367.66 623.5,366.78 624.25,366.58 625,364.35 625.75,364.76 626.5,365.49 627.25,365.48 628.0,365.82 628.75,365.6 629.5,366.01 630.25,365.82 631.0,366.3 631.75,365.66 632.5,366.35 633.25,366.79 634.0,365.54 634.75,366.02 635.5,366.81 636.25,365.6 637.0,365.24 637.75,365.11 638.5,365.43 639.25,364.61 640,364.35 640.75,363.7 641.5,363.98 642.25,363.89 643.0,363.71 643.75,363.1 644.5,363.11 645.25,364.78 646.0,365.13 646.75,364.71 647.5,365.1 648.25,365.83 649.0,366.09 649.75,367.61 650.5,367.15 651.25,368.1 652.0,367.94 652.75,366.86 653.5,366.25 654.25,366.46 655,365.6 655.75,366.77 656.5,366.59 657.25,366.76 658.0,368.01 658.75,368.1 659.5,368.33 660.25,368.76 661.0,369.61 661.75,369.67 662.5,369.35 663.25,368.59 664.0,369.49 664.75,367.85 665.5,367.74 666.25,366.85 666.88,364.65 667.5,363.1 668.33,363.91 669.17,363.89 670,365.6 670.75,366.24 671.5,365.78 672.25,364.24 673.0,363.85 673.75,364.35 674.5,363.39 675.25,364.64 676.0,363.67 676.75,363.72 677.5,363.6 678.33,363.11 679.17,362.87 680,362.6 680.75,362.51 681.5,363.51 682.25,363.23 683.0,364.36 683.75,364.85 684.5,364.9 685.25,364.88 686.0,364.43 686.75,364.0 687.5,364.35 688.33,364.01 689.17,363.27 690,363.1 690.62,359.04 691.25,354.35 692.08,354.73 692.92,354.29 693.75,354.35 694.58,355.36 695.42,356.5 696.25,358.1 697.08,358.46 697.92,359.59 698.75,360.6 699.58,359.75 700.42,358.86 701.25,357.6 702.08,357.63 702.92,358.15 703.75,356.85 704.58,356.91 705.42,357.69 706.25,358.1 707.08,359.66 707.92,357.5 708.75,358.6 709.58,357.51 710.42,357.02 711.25,356.1 712.08,354.19 712.92,352.36 713.75,350 714.58,347.31 715.42,345.29 716.25,342.5 717.12,339.42 718,336.25 718.75,334.37 719.5,331.25 720.38,332.86 721.25,337.5 722.12,333.04 723,330 723.67,327.08 724.33,323.34 725,321.25 725.67,318.75 726.33,318.42 727,316.25 727.5,313.86 728,312.5 728.75,314.88 729.5,316.25 730.38,313.1 731.25,308.75 732.12,306.5 733,303.75 733.75,301.03 734.5,297.5 735.0,294.67 735.5,292 736.17,287.71 736.83,285.64 737.5,282.5 738.17,277.65 738.83,272.33 739.5,267.5 740.38,258.72 741.25,250 741.88,241.49 742.5,232.5 743,223.75 743.67,222.21 744.33,222.6 745,221.25 745.62,224.62 746.25,225 746.75,247.5 747.5,230 748.12,219.82 748.75,210 749.38,198.8 750,187.5 750.62,178.7 751.25,170 751.88,160.49 752.5,150 753.12,147.75 753.75,145 754.5,132.5 755.38,132.59 756.25,131.25 756.5,147.5 757,130 757.5,122.28 758,115 758.6,116.25 758.6,126 758.6,397.0"/></clipPath>
<g opacity="0.7" clip-path="url(#fc)">
<line x1="29.5" y1="85.0" x2="758.6" y2="85.0" stroke="#1f3a63" stroke-width="1"/>
<line x1="29.5" y1="134.05" x2="758.6" y2="134.05" stroke="#1f3a63" stroke-width="1"/>
<line x1="29.5" y1="183.1" x2="758.6" y2="183.1" stroke="#1f3a63" stroke-width="1"/>
<line x1="29.5" y1="232.15" x2="758.6" y2="232.15" stroke="#1f3a63" stroke-width="1"/>
<line x1="29.5" y1="281.2" x2="758.6" y2="281.2" stroke="#1f3a63" stroke-width="1"/>
<line x1="29.5" y1="330.25" x2="758.6" y2="330.25" stroke="#1f3a63" stroke-width="1"/>
<line x1="29.5" y1="379.3" x2="758.6" y2="379.3" stroke="#1f3a63" stroke-width="1"/>
<line x1="100" y1="60.5" x2="100" y2="397.0" stroke="#1f3a63" stroke-width="1"/>
<line x1="179.2" y1="60.5" x2="179.2" y2="397.0" stroke="#1f3a63" stroke-width="1"/>
<line x1="258.4" y1="60.5" x2="258.4" y2="397.0" stroke="#1f3a63" stroke-width="1"/>
<line x1="337.4" y1="60.5" x2="337.4" y2="397.0" stroke="#1f3a63" stroke-width="1"/>
<line x1="416.6" y1="60.5" x2="416.6" y2="397.0" stroke="#1f3a63" stroke-width="1"/>
<line x1="495.1" y1="60.5" x2="495.1" y2="397.0" stroke="#1f3a63" stroke-width="1"/>
<line x1="574.6" y1="60.5" x2="574.6" y2="397.0" stroke="#1f3a63" stroke-width="1"/>
<line x1="653.9" y1="60.5" x2="653.9" y2="397.0" stroke="#1f3a63" stroke-width="1"/>
<line x1="733.4" y1="60.5" x2="733.4" y2="397.0" stroke="#1f3a63" stroke-width="1"/>
</g>
<polyline points="29.5,354.99 255,354.99 255,330.38 333.75,330.38 333.75,305.77 353,305.77 353,281.16 373.25,281.16 373.25,256.55 412.5,256.55 412.5,231.94 433.75,231.94 433.75,207.33 451.25,207.33 451.25,182.72 475,182.72 475,158.11 493,158.11 493,133.5 542,133.5 542,158.11 552,158.11 552,182.72 562,182.72 562,207.33 587.6,207.33 587.6,256.55 591.8,256.55 591.8,354.99 749.5,354.99 749.5,330.38 758.6,330.38" fill="none" stroke="#1b74ec" stroke-width="2.0" stroke-linejoin="miter"/>
<polyline points="29.5,353 30.25,353.28 31.0,354.94 31.75,354.57 32.5,355.5 33.25,354.87 34.0,353.84 34.75,354.61 35.5,356.2 36.25,354.5 37.08,355.36 37.92,356.48 38.75,355.71 39.58,356.2 40.42,356.21 41.25,356.25 42.14,354.36 43.04,358.12 43.93,358.01 44.82,358.35 45.71,355.75 46.61,356.04 47.5,358.75 48.25,356.9 49.0,356.82 49.75,357.21 50.5,356.09 51.25,355.5 52.0,355.1 52.75,352.43 53.5,352.62 54.25,351.63 55,350 55.83,348.69 56.67,351.49 57.5,348.75 58.33,347.0 59.17,345.37 60,341.25 60.83,341.25 61.67,341.92 62.5,343.75 63.33,344.95 64.17,346.94 65,348.75 65.75,349.45 66.5,348.79 67.25,347.7 68.0,346.86 68.75,348 69.5,346.2 70.25,347.45 71.0,343.61 71.75,343.93 72.5,342.5 73.25,339.83 74.0,333.99 74.75,332.82 75.5,329.5 76.33,335.6 77.17,335.45 78,342.5 78.67,343.73 79.33,345.69 80,347.5 80.83,344.9 81.67,345.17 82.5,343 83.33,344.83 84.17,344.86 85,348.75 85.75,350.02 86.5,349.95 87.25,350.48 88.0,351.29 88.75,349.5 89.5,350.44 90.25,350.56 91.0,349.1 91.75,352.13 92.5,351.75 93.25,350.07 94.0,349.44 94.75,347.49 95.5,347.04 96.25,347.5 97.08,344.28 97.92,344.24 98.75,340 99.58,336.59 100.42,336.7 101.25,338 102.08,339.82 102.92,342.95 103.75,342.5 104.5,344.53 105.25,342.44 106.0,342.85 106.75,347.98 107.5,348.75 108.33,347.76 109.17,347.24 110.0,350.07 110.83,350.24 111.67,348.96 112.5,348.75 113.25,347.83 114.0,346.84 114.75,347.15 115.5,344.59 116.25,342.5 117.08,341.12 117.92,339.07 118.75,336.25 119.58,334.55 120.42,338.81 121.25,337.5 121.88,341.54 122.5,343 123.33,342.05 124.17,337.0 125,338 125.75,337.54 126.5,339.94 127.25,336.75 128.0,339.35 128.75,340 129.56,342.75 130.38,340.98 131.19,346.3 132,345.5 132.75,344.25 133.5,341.3 134.25,339.94 135,337.5 135.83,336.71 136.67,334.33 137.5,332.5 138.25,333.65 139.0,330.81 139.75,330.74 140.5,332.31 141.25,330.5 142.08,331.2 142.92,330.64 143.75,332.5 144.58,331.94 145.42,330.81 146.25,327 147.08,329.48 147.92,331.3 148.75,336.25 149.5,334.32 150.25,332.55 151.0,330.6 151.75,331.15 152.5,327.5 153.25,325.36 154.0,327.7 154.75,323.54 155.5,323.44 156.25,323.75 157.08,324.02 157.92,324.11 158.75,322 159.58,326.66 160.42,329.47 161.25,332.5 162.12,340.7 163,348.75 163.67,345.21 164.33,342.03 165,337.5 165.83,333.93 166.67,331.21 167.5,327.5 168.25,328.77 169.0,328.5 169.75,330.03 170.5,330.26 171.25,330 172.06,329.59 172.88,324.19 173.69,320.05 174.5,317.5 175.25,314.37 176.0,312.23 176.75,310.87 177.5,307 178.33,310.05 179.17,314.52 180,317.5 180.83,325.16 181.67,329.45 182.5,337.5 183.33,332.65 184.17,331.16 185,327.5 185.75,324.91 186.5,321.57 187.25,317.54 188,315 188.83,316.72 189.67,317.05 190.5,317.5 191.33,313.88 192.17,314.95 193,308.75 193.83,312.15 194.67,313.84 195.5,317.5 196.31,319.87 197.12,322.2 197.94,324.92 198.75,327.5 199.38,323.19 200,326.25 200.83,326.01 201.67,328.44 202.5,327.5 203.25,324.42 204.0,324.41 204.75,324.29 205.5,322.66 206.25,320 207.0,321.51 207.75,316.7 208.5,318.02 209.25,317.54 210,317.5 210.75,316.59 211.5,315.47 212.25,308.63 213.0,311.97 213.75,308.75 214.56,307.73 215.38,311.55 216.19,309.55 217,312.5 217.75,315.55 218.5,319.74 219.25,320.74 220,323.75 220.83,320.67 221.67,318.16 222.5,313.75 223.25,313.09 224.0,311.93 224.75,313.27 225.5,311.77 226.25,309.5 227.0,309.2 227.75,313.41 228.5,308.25 229.25,311.13 230,310 230.62,315.48 231.25,321.25 232.12,315.7 233,310 233.83,307.62 234.67,303.63 235.5,300 236.17,304.61 236.83,305.44 237.5,311.25 238.33,312.13 239.17,317.91 240,320 240.83,320.2 241.67,321.61 242.5,324.5 243.33,319.35 244.17,319.88 245,315 245.83,308.32 246.67,301.63 247.5,293.75 248.33,291.65 249.17,292.08 250,291.25 250.75,288.71 251.5,290.28 252.25,290.4 253.0,286.05 253.75,286.25 254.58,287.11 255.42,285.08 256.25,282.5 257.12,277.26 258,272.5 258.67,275.6 259.33,281.59 260,285 260.83,288.2 261.67,290.85 262.5,295 263.33,298.87 264.17,302.22 265,305 265.83,309.94 266.67,309.46 267.5,313.75 268.33,308.95 269.17,303.72 270,297.5 270.81,296.46 271.62,291.26 272.44,287.5 273.25,285.5 274.0,289.56 274.75,291.03 275.5,293.73 276.25,296.25 277.06,301.61 277.88,302.77 278.69,303.46 279.5,310 280.33,306.56 281.17,301.66 282,301.25 282.88,300.23 283.75,297 284.58,301.34 285.42,304.01 286.25,308.75 287.08,302.91 287.92,297.53 288.75,291.25 289.58,290.94 290.42,292.21 291.25,290 292.08,294.08 292.92,299.74 293.75,302.5 294.58,307.43 295.42,310.51 296.25,311.25 297.08,314.51 297.92,320.77 298.75,323.75 299.58,317.47 300.42,314.79 301.25,312.5 302.08,309.02 302.92,312.28 303.75,310 304.58,308.75 305.42,310.82 306.25,311.25 307.0,308.49 307.75,306.21 308.5,302.95 309.25,301.57 310,298.75 310.75,302.42 311.5,301.31 312.25,303.22 313.0,305.1 313.75,305 314.5,304.48 315.25,302.8 316.0,303.5 316.75,305.45 317.5,303.75 318.33,298.61 319.17,297.11 320,295 320.83,297.19 321.67,297.74 322.5,297.5 323.38,295.64 324.25,293.75 325.0,298.59 325.75,301.25 326.62,289.46 327.5,277.5 328.33,272.99 329.17,269.56 330,268.75 330.83,267.47 331.67,269.16 332.5,267.5 333.38,260.69 334.25,254.5 334.92,255.12 335.58,257.13 336.25,260 337.0,258.18 337.75,260.34 338.5,259.16 339.25,261.49 340,261.25 340.83,259.31 341.67,264.19 342.5,265 343.33,262.88 344.17,259.88 345,261.25 345.83,263.48 346.67,263.38 347.5,265 348.33,257.82 349.17,255.49 350,252.5 350.67,250.39 351.33,246.88 352,245 352.83,248.97 353.67,251.84 354.5,253.75 355.25,254.96 356.0,254.82 356.75,256.49 357.5,255 358.31,258.08 359.12,259.98 359.94,258.75 360.75,263.75 361.5,262.46 362.25,260.52 363.0,255.85 363.75,253.75 364.62,249.99 365.5,247.5 366.33,252.2 367.17,249.29 368,253.75 368.81,253.13 369.62,254.52 370.44,248.75 371.25,248.75 372.0,248.93 372.75,249.8 373.5,246.34 374.25,246.51 375,245 375.75,245.28 376.5,241.9 377.25,242.07 378,241.25 378.81,242.71 379.62,244.49 380.44,244.39 381.25,245.5 382.0,245.64 382.75,244.93 383.5,246.22 384.25,248.3 385,247.5 385.75,248.04 386.5,247.15 387.25,247.56 388.0,252.7 388.75,249.5 389.58,252.04 390.42,252.36 391.25,252.5 392.12,245.25 393,245 393.67,242.51 394.33,238.98 395,235 395.83,236.02 396.67,233.08 397.5,231.25 398.12,229.28 398.75,227.5 399.5,226.71 400.25,221.88 401.0,224.39 401.75,221.94 402.5,220 403.25,217.3 404.0,218.29 404.75,217.19 405.5,211.11 406.25,211.25 407.08,208.68 407.92,208.31 408.75,206.25 409.5,205.25 410.25,203.21 411.0,201.18 411.75,204.11 412.5,200 413.33,198.9 414.17,193.39 415,192.5 415.75,188.68 416.5,190.8 417.25,187.84 418.0,186.96 418.75,182.5 419.58,181.43 420.42,176.99 421.25,176 422.08,173.94 422.92,168.25 423.75,168.75 424.58,168.16 425.42,169.5 426.25,170 427.12,164.03 428,157.5 428.83,156.1 429.67,156.5 430.5,156.25 431.33,154.62 432.17,152.26 433,149.5 433.83,152.61 434.67,154.28 435.5,156.25 436.17,154.98 436.83,155.65 437.5,153.75 438.17,150.07 438.83,145.13 439.5,142.5 440.38,138.53 441.25,136.25 442.08,135.83 442.92,135.27 443.75,135 444.58,131.88 445.42,128.33 446.25,125 447.12,128.99 448,132.5 448.62,141.8 449.25,151.25 450.0,141.2 450.75,132.5 451.5,131.4 452.25,130.59 453,127.5 453.67,128.92 454.33,128.91 455,130 455.83,128.52 456.67,124.53 457.5,123.75 458.25,119.69 459.0,120.83 459.75,117.99 460.5,118.75 461.25,116.25 462.06,115.1 462.88,113.33 463.69,115.78 464.5,117.5 465.33,121.71 466.17,121.15 467,123.75 467.83,120.23 468.67,119.39 469.5,118.75 470.33,116.12 471.17,112.75 472,108.75 472.75,107.11 473.5,107.0 474.25,104.08 475,101.25 475.75,99.66 476.5,98.93 477.25,98.8 478,95 478.83,95.89 479.67,95.55 480.5,93.75 481.25,96.04 482,101.25 482.75,96.67 483.5,92.5 484.25,91.61 485,88.75 485.75,94.84 486.5,101.25 487.25,102.07 488,100 488.67,102.89 489.33,105.39 490,106.25 490.67,108.05 491.33,113.85 492,112.5 492.88,117.92 493.75,120 494.38,124.88 495,130 495.62,137.55 496.25,145 496.88,137.65 497.5,127.5 498.17,125.37 498.83,125.35 499.5,122.5 500.38,125.7 501.25,126.25 501.88,131.25 502.5,136.25 503.17,133.01 503.83,133.17 504.5,131.25 505.33,132.15 506.17,133.61 507,132.5 507.88,131.68 508.75,128.75 509.62,132.53 510.5,136.25 511.17,140.32 511.83,142.81 512.5,145 513.38,153.86 514.25,162.5 514.88,156.28 515.5,150 516.17,147.59 516.83,146.76 517.5,143.75 518.33,143.99 519.17,146.23 520,148.75 520.83,150.84 521.67,150.94 522.5,155 523.33,156.08 524.17,155.62 525,160 525.67,161.08 526.33,164.77 527,166 527.5,170.81 528,175 528.5,181.22 529,187.5 529.5,191.12 530,195 530.67,194.75 531.33,200.8 532,200 532.5,204.03 533,207.5 533.67,208.56 534.33,205.48 535,206.25 535.62,199.9 536.25,193.75 537.12,194.42 538,200 538.75,204.18 539.5,206.25 540.12,201.13 540.75,195 541.38,201.48 542,210 542.88,216.22 543.75,222.5 544.62,227.1 545.5,230 546.25,223.87 547,222.5 547.88,228.39 548.75,236.25 549.38,230.05 550,225 550.67,217.16 551.33,209.24 552,202.5 552.88,208.77 553.75,215 554.62,225.13 555.5,235 556.12,239.61 556.75,242.5 557.38,235.38 558,227.5 558.67,227.03 559.33,224.07 560,220 560.83,216.98 561.67,216.82 562.5,216.25 563.33,216.07 564.17,217.3 565,220 565.75,219.27 566.5,218.76 567.25,218.79 568,217.5 568.67,217.44 569.33,220.0 570,223.75 570.67,221.22 571.33,218.48 572,216.25 572.83,217.91 573.67,220.33 574.5,222.5 575.33,222.72 576.17,225.95 577,226.25 577.83,229.64 578.67,231.96 579.5,235 580.38,236.59 581.25,240 582.08,239.35 582.92,235.49 583.75,238.75 584.62,241.8 585.5,247.5 586.0,254.77 586.5,262 587.2,290 588,315 588.75,326.69 589.5,340 590.38,341.97 591.25,343.75 591.88,346.95 592.5,350 593.17,352.01 593.83,355.27 594.5,358.1 595.33,357.53 596.17,357.5 597,356.85 597.83,358.41 598.67,359.33 599.5,360.6 600.25,361.3 601.0,362.78 601.75,363.94 602.5,365.1 603.25,365.07 604.0,364.45 604.75,363.54 605.5,362.82 606.25,363.1 607.08,361.66 607.92,360.23 608.75,359.35 609.58,360.04 610.42,361.79 611.25,363.1 612.0,363.1 612.75,363.65 613.5,364.11 614.25,363.89 615,364.35 615.75,365.76 616.5,364.69 617.25,365.65 618.0,365.41 618.75,365.6 619.56,366.91 620.38,365.91 621.19,367.47 622,368.6 622.75,367.66 623.5,366.78 624.25,366.58 625,364.35 625.75,364.76 626.5,365.49 627.25,365.48 628.0,365.82 628.75,365.6 629.5,366.01 630.25,365.82 631.0,366.3 631.75,365.66 632.5,366.35 633.25,366.79 634.0,365.54 634.75,366.02 635.5,366.81 636.25,365.6 637.0,365.24 637.75,365.11 638.5,365.43 639.25,364.61 640,364.35 640.75,363.7 641.5,363.98 642.25,363.89 643.0,363.71 643.75,363.1 644.5,363.11 645.25,364.78 646.0,365.13 646.75,364.71 647.5,365.1 648.25,365.83 649.0,366.09 649.75,367.61 650.5,367.15 651.25,368.1 652.0,367.94 652.75,366.86 653.5,366.25 654.25,366.46 655,365.6 655.75,366.77 656.5,366.59 657.25,366.76 658.0,368.01 658.75,368.1 659.5,368.33 660.25,368.76 661.0,369.61 661.75,369.67 662.5,369.35 663.25,368.59 664.0,369.49 664.75,367.85 665.5,367.74 666.25,366.85 666.88,364.65 667.5,363.1 668.33,363.91 669.17,363.89 670,365.6 670.75,366.24 671.5,365.78 672.25,364.24 673.0,363.85 673.75,364.35 674.5,363.39 675.25,364.64 676.0,363.67 676.75,363.72 677.5,363.6 678.33,363.11 679.17,362.87 680,362.6 680.75,362.51 681.5,363.51 682.25,363.23 683.0,364.36 683.75,364.85 684.5,364.9 685.25,364.88 686.0,364.43 686.75,364.0 687.5,364.35 688.33,364.01 689.17,363.27 690,363.1 690.62,359.04 691.25,354.35 692.08,354.73 692.92,354.29 693.75,354.35 694.58,355.36 695.42,356.5 696.25,358.1 697.08,358.46 697.92,359.59 698.75,360.6 699.58,359.75 700.42,358.86 701.25,357.6 702.08,357.63 702.92,358.15 703.75,356.85 704.58,356.91 705.42,357.69 706.25,358.1 707.08,359.66 707.92,357.5 708.75,358.6 709.58,357.51 710.42,357.02 711.25,356.1 712.08,354.19 712.92,352.36 713.75,350 714.58,347.31 715.42,345.29 716.25,342.5 717.12,339.42 718,336.25 718.75,334.37 719.5,331.25 720.38,332.86 721.25,337.5 722.12,333.04 723,330 723.67,327.08 724.33,323.34 725,321.25 725.67,318.75 726.33,318.42 727,316.25 727.5,313.86 728,312.5 728.75,314.88 729.5,316.25 730.38,313.1 731.25,308.75 732.12,306.5 733,303.75 733.75,301.03 734.5,297.5 735.0,294.67 735.5,292 736.17,287.71 736.83,285.64 737.5,282.5 738.17,277.65 738.83,272.33 739.5,267.5 740.38,258.72 741.25,250 741.88,241.49 742.5,232.5 743,223.75 743.67,222.21 744.33,222.6 745,221.25 745.62,224.62 746.25,225 746.75,247.5 747.5,230 748.12,219.82 748.75,210 749.38,198.8 750,187.5 750.62,178.7 751.25,170 751.88,160.49 752.5,150 753.12,147.75 753.75,145 754.5,132.5 755.38,132.59 756.25,131.25 756.5,147.5 757,130 757.5,122.28 758,115 758.6,116.25 758.6,126" fill="none" stroke="#fcfdff" stroke-width="2.1" stroke-linejoin="round"/>
<line x1="29.5" y1="60.5" x2="29.5" y2="397.0" stroke="#8a8d94" stroke-width="1"/>
<line x1="774.0" y1="60.5" x2="774.0" y2="397.0" stroke="#8a8d94" stroke-width="1"/>
<line x1="29.5" y1="397.0" x2="774.0" y2="397.0" stroke="#9aa4b6" stroke-width="1.4"/>
<text x="7.4" y="88.5" font-size="9.7" fill="#c4c4c4" stroke="#c4c4c4" stroke-width="0.2" textLength="16.4" lengthAdjust="spacingAndGlyphs" xml:space="preserve">3.00</text>
<path d="M29.2 83.0 L25.3 85.0 L29.2 87.0 Z" fill="#e0e0e0"/>
<text x="779.4" y="88.5" font-size="9.7" fill="#c4c4c4" stroke="#c4c4c4" stroke-width="0.2" textLength="16.4" lengthAdjust="spacingAndGlyphs" xml:space="preserve">3.00</text>
<path d="M774.3 83.0 L778.2 85.0 L774.3 87.0 Z" fill="#e0e0e0"/>
<text x="7.4" y="137.55" font-size="9.7" fill="#c4c4c4" stroke="#c4c4c4" stroke-width="0.2" textLength="16.4" lengthAdjust="spacingAndGlyphs" xml:space="preserve">2.50</text>
<path d="M29.2 132.05 L25.3 134.05 L29.2 136.05 Z" fill="#e0e0e0"/>
<text x="779.4" y="137.55" font-size="9.7" fill="#c4c4c4" stroke="#c4c4c4" stroke-width="0.2" textLength="16.4" lengthAdjust="spacingAndGlyphs" xml:space="preserve">2.50</text>
<path d="M774.3 132.05 L778.2 134.05 L774.3 136.05 Z" fill="#e0e0e0"/>
<text x="7.4" y="186.6" font-size="9.7" fill="#c4c4c4" stroke="#c4c4c4" stroke-width="0.2" textLength="16.4" lengthAdjust="spacingAndGlyphs" xml:space="preserve">2.00</text>
<path d="M29.2 181.1 L25.3 183.1 L29.2 185.1 Z" fill="#e0e0e0"/>
<text x="779.4" y="186.6" font-size="9.7" fill="#c4c4c4" stroke="#c4c4c4" stroke-width="0.2" textLength="16.4" lengthAdjust="spacingAndGlyphs" xml:space="preserve">2.00</text>
<path d="M774.3 181.1 L778.2 183.1 L774.3 185.1 Z" fill="#e0e0e0"/>
<text x="7.4" y="235.65" font-size="9.7" fill="#c4c4c4" stroke="#c4c4c4" stroke-width="0.2" textLength="16.4" lengthAdjust="spacingAndGlyphs" xml:space="preserve">1.50</text>
<path d="M29.2 230.15 L25.3 232.15 L29.2 234.15 Z" fill="#e0e0e0"/>
<text x="779.4" y="235.65" font-size="9.7" fill="#c4c4c4" stroke="#c4c4c4" stroke-width="0.2" textLength="16.4" lengthAdjust="spacingAndGlyphs" xml:space="preserve">1.50</text>
<path d="M774.3 230.15 L778.2 232.15 L774.3 234.15 Z" fill="#e0e0e0"/>
<text x="7.4" y="284.7" font-size="9.7" fill="#c4c4c4" stroke="#c4c4c4" stroke-width="0.2" textLength="16.4" lengthAdjust="spacingAndGlyphs" xml:space="preserve">1.00</text>
<path d="M29.2 279.2 L25.3 281.2 L29.2 283.2 Z" fill="#e0e0e0"/>
<text x="779.4" y="284.7" font-size="9.7" fill="#c4c4c4" stroke="#c4c4c4" stroke-width="0.2" textLength="16.4" lengthAdjust="spacingAndGlyphs" xml:space="preserve">1.00</text>
<path d="M774.3 279.2 L778.2 281.2 L774.3 283.2 Z" fill="#e0e0e0"/>
<text x="7.4" y="333.75" font-size="9.7" fill="#c4c4c4" stroke="#c4c4c4" stroke-width="0.2" textLength="16.4" lengthAdjust="spacingAndGlyphs" xml:space="preserve">0.50</text>
<path d="M29.2 328.25 L25.3 330.25 L29.2 332.25 Z" fill="#e0e0e0"/>
<path d="M774.3 328.25 L778.2 330.25 L774.3 332.25 Z" fill="#e0e0e0"/>
<text x="7.4" y="382.8" font-size="9.7" fill="#c4c4c4" stroke="#c4c4c4" stroke-width="0.2" textLength="16.4" lengthAdjust="spacingAndGlyphs" xml:space="preserve">0.00</text>
<path d="M29.2 377.3 L25.3 379.3 L29.2 381.3 Z" fill="#e0e0e0"/>
<text x="779.4" y="382.8" font-size="9.7" fill="#c4c4c4" stroke="#c4c4c4" stroke-width="0.2" textLength="16.4" lengthAdjust="spacingAndGlyphs" xml:space="preserve">0.00</text>
<path d="M774.3 377.3 L778.2 379.3 L774.3 381.3 Z" fill="#e0e0e0"/>
<line x1="27.5" y1="109.5" x2="29.5" y2="109.5" stroke="#888" stroke-width="1"/>
<line x1="774.0" y1="109.5" x2="776.0" y2="109.5" stroke="#888" stroke-width="1"/>
<line x1="27.5" y1="158.55" x2="29.5" y2="158.55" stroke="#888" stroke-width="1"/>
<line x1="774.0" y1="158.55" x2="776.0" y2="158.55" stroke="#888" stroke-width="1"/>
<line x1="27.5" y1="207.6" x2="29.5" y2="207.6" stroke="#888" stroke-width="1"/>
<line x1="774.0" y1="207.6" x2="776.0" y2="207.6" stroke="#888" stroke-width="1"/>
<line x1="27.5" y1="256.65" x2="29.5" y2="256.65" stroke="#888" stroke-width="1"/>
<line x1="774.0" y1="256.65" x2="776.0" y2="256.65" stroke="#888" stroke-width="1"/>
<line x1="27.5" y1="305.7" x2="29.5" y2="305.7" stroke="#888" stroke-width="1"/>
<line x1="774.0" y1="305.7" x2="776.0" y2="305.7" stroke="#888" stroke-width="1"/>
<line x1="27.5" y1="354.75" x2="29.5" y2="354.75" stroke="#888" stroke-width="1"/>
<line x1="774.0" y1="354.75" x2="776.0" y2="354.75" stroke="#888" stroke-width="1"/>
<line x1="100" y1="397.0" x2="100" y2="418.2" stroke="#6e6e6e" stroke-width="1"/>
<line x1="179.2" y1="397.0" x2="179.2" y2="418.2" stroke="#6e6e6e" stroke-width="1"/>
<line x1="258.4" y1="397.0" x2="258.4" y2="418.2" stroke="#6e6e6e" stroke-width="1"/>
<line x1="337.4" y1="397.0" x2="337.4" y2="418.2" stroke="#6e6e6e" stroke-width="1"/>
<line x1="416.6" y1="397.0" x2="416.6" y2="418.2" stroke="#6e6e6e" stroke-width="1"/>
<line x1="495.1" y1="397.0" x2="495.1" y2="418.2" stroke="#6e6e6e" stroke-width="1"/>
<line x1="574.6" y1="397.0" x2="574.6" y2="418.2" stroke="#6e6e6e" stroke-width="1"/>
<line x1="653.9" y1="397.0" x2="653.9" y2="418.2" stroke="#6e6e6e" stroke-width="1"/>
<line x1="733.4" y1="397.0" x2="733.4" y2="418.2" stroke="#6e6e6e" stroke-width="1"/>
<line x1="40.5" y1="397.0" x2="40.5" y2="399.0" stroke="#888" stroke-width="1"/>
<line x1="60.4" y1="397.0" x2="60.4" y2="399.0" stroke="#888" stroke-width="1"/>
<line x1="80.2" y1="397.0" x2="80.2" y2="399.0" stroke="#888" stroke-width="1"/>
<line x1="119.8" y1="397.0" x2="119.8" y2="399.0" stroke="#888" stroke-width="1"/>
<line x1="139.7" y1="397.0" x2="139.7" y2="399.0" stroke="#888" stroke-width="1"/>
<line x1="159.5" y1="397.0" x2="159.5" y2="399.0" stroke="#888" stroke-width="1"/>
<line x1="199.1" y1="397.0" x2="199.1" y2="399.0" stroke="#888" stroke-width="1"/>
<line x1="219.0" y1="397.0" x2="219.0" y2="399.0" stroke="#888" stroke-width="1"/>
<line x1="238.8" y1="397.0" x2="238.8" y2="399.0" stroke="#888" stroke-width="1"/>
<line x1="278.4" y1="397.0" x2="278.4" y2="399.0" stroke="#888" stroke-width="1"/>
<line x1="298.2" y1="397.0" x2="298.2" y2="399.0" stroke="#888" stroke-width="1"/>
<line x1="318.1" y1="397.0" x2="318.1" y2="399.0" stroke="#888" stroke-width="1"/>
<line x1="357.7" y1="397.0" x2="357.7" y2="399.0" stroke="#888" stroke-width="1"/>
<line x1="377.5" y1="397.0" x2="377.5" y2="399.0" stroke="#888" stroke-width="1"/>
<line x1="397.4" y1="397.0" x2="397.4" y2="399.0" stroke="#888" stroke-width="1"/>
<line x1="437.0" y1="397.0" x2="437.0" y2="399.0" stroke="#888" stroke-width="1"/>
<line x1="456.8" y1="397.0" x2="456.8" y2="399.0" stroke="#888" stroke-width="1"/>
<line x1="476.7" y1="397.0" x2="476.7" y2="399.0" stroke="#888" stroke-width="1"/>
<line x1="516.3" y1="397.0" x2="516.3" y2="399.0" stroke="#888" stroke-width="1"/>
<line x1="536.1" y1="397.0" x2="536.1" y2="399.0" stroke="#888" stroke-width="1"/>
<line x1="556.0" y1="397.0" x2="556.0" y2="399.0" stroke="#888" stroke-width="1"/>
<line x1="595.6" y1="397.0" x2="595.6" y2="399.0" stroke="#888" stroke-width="1"/>
<line x1="615.4" y1="397.0" x2="615.4" y2="399.0" stroke="#888" stroke-width="1"/>
<line x1="635.3" y1="397.0" x2="635.3" y2="399.0" stroke="#888" stroke-width="1"/>
<line x1="674.9" y1="397.0" x2="674.9" y2="399.0" stroke="#888" stroke-width="1"/>
<line x1="694.8" y1="397.0" x2="694.8" y2="399.0" stroke="#888" stroke-width="1"/>
<line x1="714.6" y1="397.0" x2="714.6" y2="399.0" stroke="#888" stroke-width="1"/>
<line x1="754.2" y1="397.0" x2="754.2" y2="399.0" stroke="#888" stroke-width="1"/>
<text x="56.1" y="417.3" font-size="10" fill="#bcbcbc" stroke="#bcbcbc" stroke-width="0.2" textLength="18.2" lengthAdjust="spacingAndGlyphs" xml:space="preserve">2013</text>
<text x="130.5" y="417.3" font-size="10" fill="#bcbcbc" stroke="#bcbcbc" stroke-width="0.2" textLength="18.2" lengthAdjust="spacingAndGlyphs" xml:space="preserve">2014</text>
<text x="209.70000000000002" y="417.3" font-size="10" fill="#bcbcbc" stroke="#bcbcbc" stroke-width="0.2" textLength="18.2" lengthAdjust="spacingAndGlyphs" xml:space="preserve">2015</text>
<text x="288.79999999999995" y="417.3" font-size="10" fill="#bcbcbc" stroke="#bcbcbc" stroke-width="0.2" textLength="18.2" lengthAdjust="spacingAndGlyphs" xml:space="preserve">2016</text>
<text x="367.9" y="417.3" font-size="10" fill="#bcbcbc" stroke="#bcbcbc" stroke-width="0.2" textLength="18.2" lengthAdjust="spacingAndGlyphs" xml:space="preserve">2017</text>
<text x="446.9" y="417.3" font-size="10" fill="#bcbcbc" stroke="#bcbcbc" stroke-width="0.2" textLength="18.2" lengthAdjust="spacingAndGlyphs" xml:space="preserve">2018</text>
<text x="525.8" y="417.3" font-size="10" fill="#bcbcbc" stroke="#bcbcbc" stroke-width="0.2" textLength="18.2" lengthAdjust="spacingAndGlyphs" xml:space="preserve">2019</text>
<text x="605.1" y="417.3" font-size="10" fill="#bcbcbc" stroke="#bcbcbc" stroke-width="0.2" textLength="18.2" lengthAdjust="spacingAndGlyphs" xml:space="preserve">2020</text>
<text x="684.3" y="417.3" font-size="10" fill="#bcbcbc" stroke="#bcbcbc" stroke-width="0.2" textLength="18.2" lengthAdjust="spacingAndGlyphs" xml:space="preserve">2021</text>
<text x="744.1999999999999" y="417.3" font-size="10" fill="#bcbcbc" stroke="#bcbcbc" stroke-width="0.2" textLength="18.2" lengthAdjust="spacingAndGlyphs" xml:space="preserve">2022</text>
<path d="M0 118.3 L25.3 118.3 L29.4 125 L25.3 131.8 L0 131.8 Z" fill="#ffffff"/>
<text x="1.2" y="128.5" font-size="9.4" fill="#4a4a4a" stroke="#4a4a4a" stroke-width="0.2" textLength="23.6" lengthAdjust="spacingAndGlyphs" xml:space="preserve">2.5838</text>
<path d="M800 323 L779 323 L774.3 330.1 L779 337.2 L800 337.2 Z" fill="#1f80ff"/>
<text x="779.4" y="333.6" font-size="9.4" fill="#d6e6ff" stroke="#d6e6ff" stroke-width="0.2" textLength="16.2" lengthAdjust="spacingAndGlyphs" xml:space="preserve">0.50</text>
<rect x="30.6" y="63.2" width="128.8" height="37.8" fill="#0c0c0c"/>
<text x="70" y="73.8" font-size="8.4" fill="#adadad" stroke="#adadad" stroke-width="0.2" textLength="51" lengthAdjust="spacingAndGlyphs" xml:space="preserve">Último precio</text>
<rect x="36" y="77" width="7.6" height="8" fill="#f4f4f4"/>
<rect x="45.6" y="76" width="82" height="10" fill="#f4f4f4"/>
<text x="46.5" y="84.3" font-size="9" fill="#505050" stroke="#505050" stroke-width="0.2" textLength="80.1" lengthAdjust="spacingAndGlyphs" xml:space="preserve">USGG2YR Index  (L1)</text>
<text x="130" y="84.3" font-size="9" fill="#c8c8c8" stroke="#c8c8c8" stroke-width="0.2" textLength="26" lengthAdjust="spacingAndGlyphs" xml:space="preserve">2.5838</text>
<rect x="36" y="87.6" width="7.6" height="7.6" fill="#2a86f0"/>
<rect x="45.6" y="87" width="68.4" height="9.2" fill="#f4f4f4"/>
<text x="46.5" y="95" font-size="9" fill="#505050" stroke="#505050" stroke-width="0.2" textLength="66.5" lengthAdjust="spacingAndGlyphs" xml:space="preserve">FDTR Index  (R1)</text>
<text x="130" y="95" font-size="9" fill="#c8c8c8" stroke="#c8c8c8" stroke-width="0.2" textLength="17" lengthAdjust="spacingAndGlyphs" xml:space="preserve">0.50</text>
<rect x="308.8" y="61.2" width="176.2" height="12.6" fill="#1b1b1b"/>
<text x="313" y="69.7" font-size="7" fill="#888" stroke="#888" stroke-width="0.2" xml:space="preserve">✥</text>
<text x="325" y="69.7" font-size="8" fill="#c4c4c4" stroke="#c4c4c4" stroke-width="0.2" textLength="23" lengthAdjust="spacingAndGlyphs" xml:space="preserve">Seguir</text>
<path d="M356 70 L361 65" stroke="#777" stroke-width="1" fill="none"/>
<text x="368" y="69.7" font-size="8" fill="#c4c4c4" stroke="#c4c4c4" stroke-width="0.2" textLength="24" lengthAdjust="spacingAndGlyphs" xml:space="preserve">Anotar</text>
<path d="M400 65.5 h4 M400 67.5 h4 M400 69.5 h4" stroke="#777" stroke-width="1" fill="none"/>
<text x="412" y="69.7" font-size="8" fill="#c4c4c4" stroke="#c4c4c4" stroke-width="0.2" textLength="30" lengthAdjust="spacingAndGlyphs" xml:space="preserve">Noticias</text>
<circle cx="451.5" cy="66.8" r="2" stroke="#777" stroke-width="1" fill="none"/><path d="M453 68.3 L455.3 70.6" stroke="#777" stroke-width="1"/>
<text x="462" y="69.7" font-size="8" fill="#c4c4c4" stroke="#c4c4c4" stroke-width="0.2" textLength="20" lengthAdjust="spacingAndGlyphs" xml:space="preserve">Zoom</text>
<rect x="437.5" y="75.2" width="54.5" height="12.3" fill="#333333"/>
<circle cx="445.8" cy="81.6" r="2.2" stroke="#f0f0f0" stroke-width="1.5" fill="none"/>
<text x="454.5" y="84.4" font-size="8" fill="#b4b4b4" stroke="#b4b4b4" stroke-width="0.2" textLength="34.3" lengthAdjust="spacingAndGlyphs" xml:space="preserve">Restaurar</text>
<rect x="0" y="421.8" width="800" height="2.2" fill="#191919"/>
</g>
</svg>
</body></html>
